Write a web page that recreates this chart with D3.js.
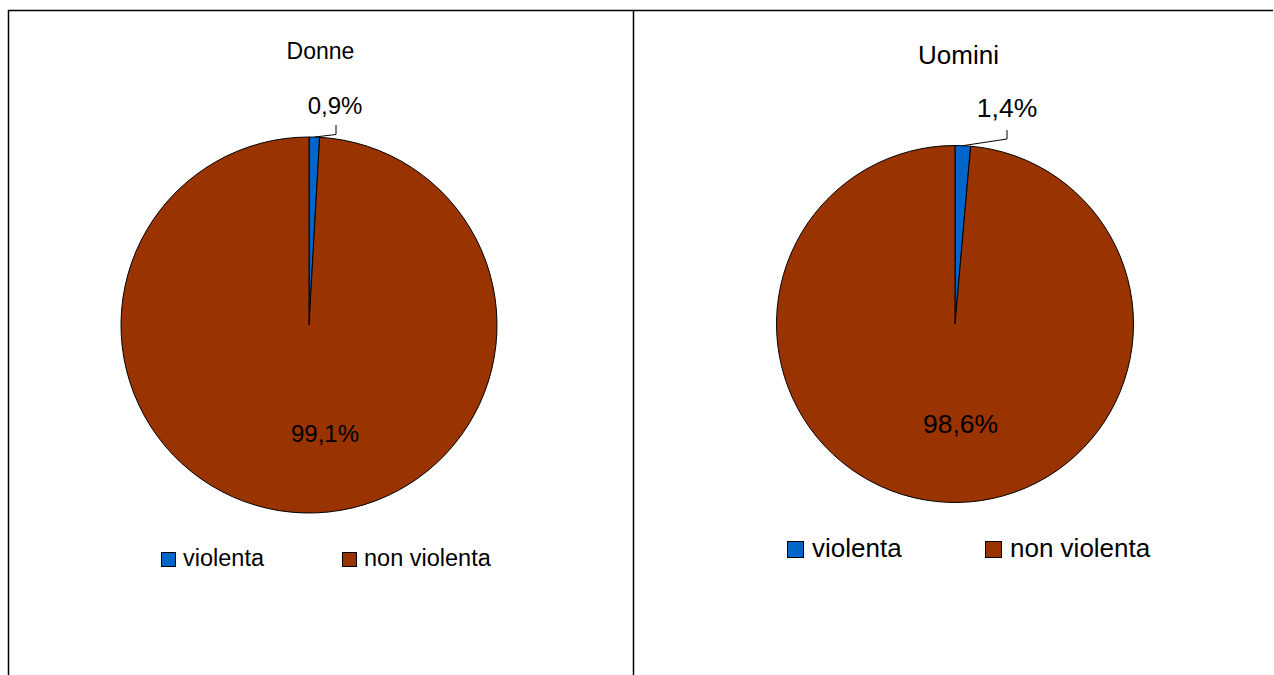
<!DOCTYPE html>
<html>
<head>
<meta charset="utf-8">
<script src="https://cdn.jsdelivr.net/npm/d3@7"></script>
<style>
  body { margin: 0; background: #fff; }
  svg { display: block; font-family: "Liberation Sans", Arial, sans-serif; }
</style>
</head>
<body>
<svg id="chart" width="1274" height="675"></svg>
<script>
// dati
const categories = ["violenta", "non violenta"];
const colors = ["#0066cc", "#993300"];
const panelTitles = ["Donne", "Uomini"];
const donneValues = [0.9, 99.1];
const uominiValues = [1.4, 98.6];

const fmt = v => d3.format(".1f")(v).replace(".", ",") + "%";

const svg = d3.select("#chart");

// cornici dei pannelli
svg.append("path")
  .attr("d", "M8.5,675 V10.5 H1273 M633.5,10.5 V675")
  .attr("fill", "none")
  .attr("stroke", "#000")
  .attr("stroke-width", 1.5);

// layout di ogni pannello
const panels = [
  { title: panelTitles[0], values: donneValues, cx: 309, cy: 325, r: 188,
    titleX: 320.5, titleY: 59, titleFont: 23, font: 24,
    lab: { x: 335, y: 114, lx: 336, ly1: 125, ly2: 134.5 }, inX: 325, inY: 442,
    legend: { y: 566, x: [161, 342], size: 14, font: 23.5, gap: 8 } },
  { title: panelTitles[1], values: uominiValues, cx: 955, cy: 324, r: 178.5,
    titleX: 958.5, titleY: 64, titleFont: 26, font: 26.5,
    lab: { x: 1007, y: 117, lx: 1007, ly1: 130, ly2: 139 }, inX: 960.5, inY: 433,
    legend: { y: 557, x: [787, 985], size: 16, font: 26, gap: 9 } }
];

panels.forEach(p => {
  const g = svg.append("g");
  const pie = d3.pie().sort(null).value(d => d)(p.values);
  const arc = d3.arc().innerRadius(0).outerRadius(p.r);

  g.append("text")
    .attr("x", p.titleX).attr("y", p.titleY)
    .attr("text-anchor", "middle")
    .attr("font-size", p.titleFont)
    .text(p.title);

  const pg = g.append("g").attr("transform", `translate(${p.cx},${p.cy})`);
  pg.selectAll("path")
    .data(pie)
    .join("path")
    .attr("d", arc)
    .attr("fill", (d, i) => colors[i])
    .attr("stroke", "#000")
    .attr("stroke-width", 1);

  // linea di richiamo per la fetta piccola
  const small = pie[0];
  const mid = (small.startAngle + small.endAngle) / 2;
  const ex = p.cx + Math.sin(mid) * p.r;
  const ey = p.cy - Math.cos(mid) * p.r;
  g.append("polyline")
    .attr("points", `${ex},${ey} ${p.lab.lx},${p.lab.ly2} ${p.lab.lx},${p.lab.ly1}`)
    .attr("fill", "none")
    .attr("stroke", "#000")
    .attr("stroke-width", 1);

  g.append("text")
    .attr("x", p.lab.x).attr("y", p.lab.y)
    .attr("text-anchor", "middle")
    .attr("font-size", p.font)
    .text(fmt(p.values[0]));

  g.append("text")
    .attr("x", p.inX).attr("y", p.inY)
    .attr("text-anchor", "middle")
    .attr("font-size", p.font)
    .text(fmt(p.values[1]));

  // legenda
  categories.forEach((c, i) => {
    const lx = p.legend.x[i];
    g.append("rect")
      .attr("x", lx + 0.5).attr("y", p.legend.y - p.legend.size + 0.5)
      .attr("width", p.legend.size).attr("height", p.legend.size)
      .attr("fill", colors[i])
      .attr("stroke", "#000").attr("stroke-width", 1);
    g.append("text")
      .attr("x", lx + p.legend.size + p.legend.gap)
      .attr("y", p.legend.y)
      .attr("font-size", p.legend.font)
      .text(c);
  });
});
</script>
</body>
</html>
